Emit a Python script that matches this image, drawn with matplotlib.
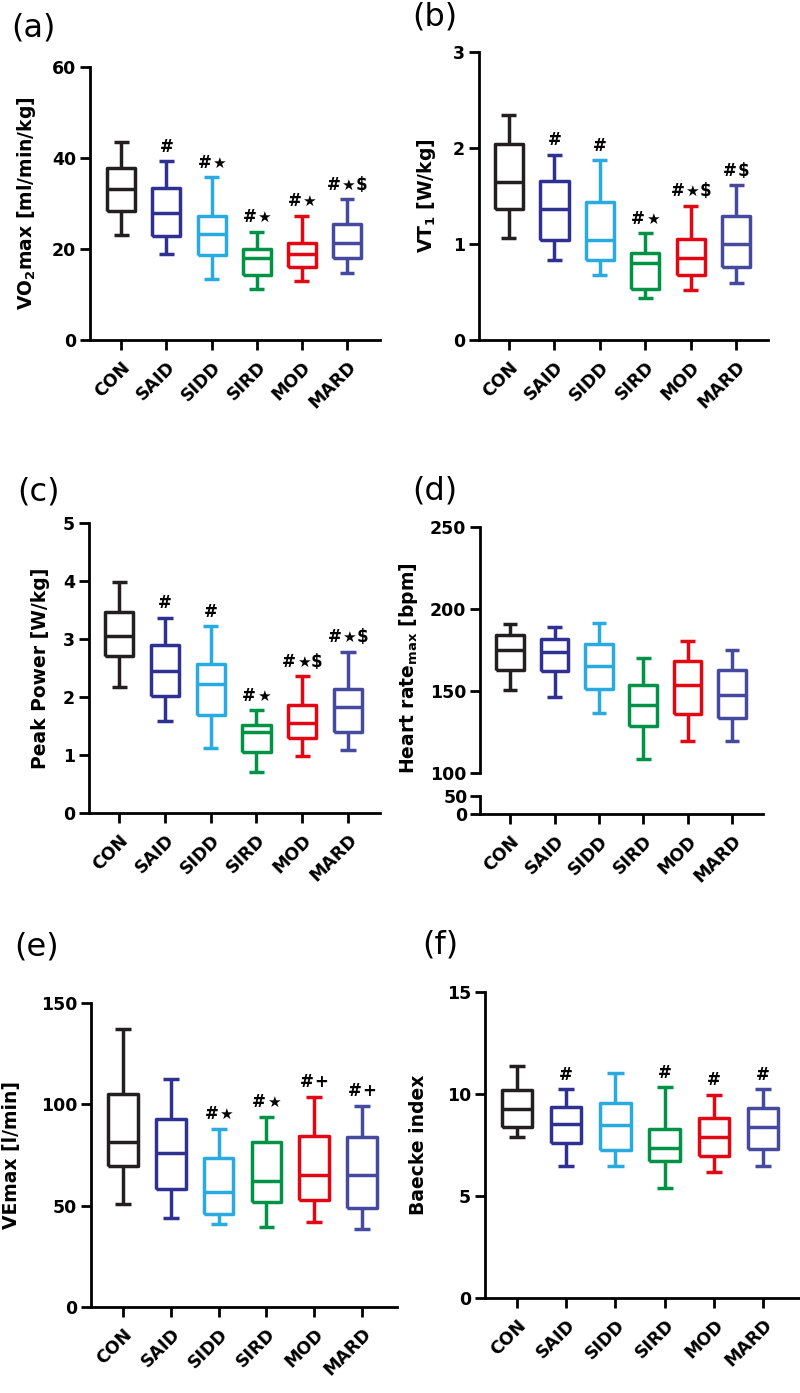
import matplotlib
matplotlib.use("Agg")
import matplotlib.pyplot as plt
from matplotlib.offsetbox import TextArea, HPacker, AnnotationBbox

plt.rcParams['font.family'] = ['DejaVu Sans']
plt.rcParams['mathtext.fontset'] = 'custom'
plt.rcParams['mathtext.rm'] = 'DejaVu Sans:bold'
plt.rcParams['mathtext.bf'] = 'DejaVu Sans:bold'
plt.rcParams['mathtext.it'] = 'DejaVu Sans:bold:italic'

groups = ['CON', 'SAID', 'SIDD', 'SIRD', 'MOD', 'MARD']
colors = ['#231f20', '#2e3192', '#29abe2', '#009245', '#e30613', '#464a9e']

# (a) VO2max
a_hi = [43.5, 39.3, 35.8, 23.8, 27.3, 30.9]
a_q3 = [37.7, 33.4, 27.2, 20.1, 21.4, 25.5]
a_med = [33.1, 27.9, 23.2, 18.1, 19.0, 21.4]
a_q1 = [28.4, 22.9, 18.7, 14.2, 16.1, 18.1]
a_lo = [23.0, 18.8, 13.3, 11.3, 12.9, 14.8]
a_sig = ['', '#', '#★', '#★', '#★', '#★$']

# (b) VT1
b_hi = [2.34, 1.93, 1.87, 1.11, 1.40, 1.61]
b_q3 = [2.04, 1.66, 1.44, 0.91, 1.05, 1.29]
b_med = [1.65, 1.36, 1.04, 0.80, 0.85, 1.00]
b_q1 = [1.36, 1.04, 0.83, 0.53, 0.68, 0.76]
b_lo = [1.06, 0.83, 0.68, 0.44, 0.52, 0.59]
b_sig = ['', '#', '#', '#★', '#★$', '#$']

# (c) Peak power
c_hi = [3.98, 3.37, 3.22, 1.77, 2.36, 2.78]
c_q3 = [3.46, 2.89, 2.57, 1.51, 1.86, 2.14]
c_med = [3.06, 2.44, 2.23, 1.40, 1.56, 1.82]
c_q1 = [2.70, 2.01, 1.69, 1.06, 1.30, 1.40]
c_lo = [2.18, 1.58, 1.12, 0.70, 0.99, 1.08]
c_sig = ['', '#', '#', '#★', '#★$', '#★$']

# (d) Heart rate max
d_hi = [190.7, 189.3, 191.3, 170.0, 180.2, 174.7]
d_q3 = [184.2, 181.6, 178.5, 153.8, 168.0, 162.6]
d_med = [175.1, 173.7, 165.0, 141.7, 153.4, 147.4]
d_q1 = [163.0, 161.9, 151.4, 128.9, 136.2, 133.6]
d_lo = [150.4, 146.2, 136.6, 108.7, 119.8, 119.8]

# (e) VEmax
e_hi = [137.0, 112.3, 88.0, 93.8, 103.6, 99.2]
e_q3 = [105.3, 92.6, 73.5, 81.4, 84.4, 83.9]
e_med = [81.4, 76.0, 56.7, 62.2, 65.0, 65.0]
e_q1 = [69.4, 58.4, 46.1, 51.8, 52.6, 48.8]
e_lo = [51.0, 44.1, 41.1, 39.5, 41.9, 38.3]
e_sig = ['', '', '#★', '#★', '#+', '#+']

# (f) Baecke index
f_hi = [11.37, 10.24, 11.01, 10.33, 9.95, 10.23]
f_q3 = [10.20, 9.38, 9.54, 8.29, 8.81, 9.30]
f_med = [9.25, 8.53, 8.48, 7.34, 7.91, 8.40]
f_q1 = [8.40, 7.59, 7.26, 6.72, 6.97, 7.29]
f_lo = [7.88, 6.48, 6.48, 5.38, 6.20, 6.48]
f_sig = ['', '#', '', '#', '#', '#']

W, H = 800, 1393
fig = plt.figure(figsize=(W / 100, H / 100), dpi=100)

LW = 2.5
SPW = 2.0
TICKFS = 12.5
LABFS = 13.5
PANFS = 23


def add_ax(l, r, t, b):
    return fig.add_axes([l / W, 1 - b / H, (r - l) / W, (b - t) / H])


def style(ax, yt, ylim, xl, xr, xticks=True):
    for s in ['top', 'right']:
        ax.spines[s].set_visible(False)
    for s in ['left', 'bottom']:
        ax.spines[s].set_linewidth(SPW)
    ax.set_ylim(*ylim)
    ax.set_yticks(yt)
    ax.set_yticklabels([str(v) for v in yt], fontsize=TICKFS, fontweight='bold')
    ax.tick_params(axis='both', direction='out', length=7, width=SPW, pad=3)
    ax.set_xlim(xl, xr)
    ax.set_xticks(range(len(groups)))
    if xticks:
        ax.set_xticklabels(groups, rotation=45, ha='right', va='top',
                           rotation_mode='anchor', fontsize=TICKFS, fontweight='bold')
        ax.tick_params(axis='x', pad=6)
    else:
        ax.set_xticklabels([])


def sig_box(s):
    parts = []
    for ch in s:
        if ch == '★':
            parts.append(TextArea(ch, textprops=dict(fontsize=11, color='black')))
        else:
            parts.append(TextArea(ch, textprops=dict(fontsize=12, fontweight='bold',
                                                     color='black')))
    return HPacker(children=parts, align='baseline', pad=0, sep=0.5)


def draw_boxes(ax, lo, q1, med, q3, hi, sig=None):
    stats = []
    for i in range(len(groups)):
        stats.append(dict(whislo=lo[i], q1=q1[i], med=med[i], q3=q3[i],
                          whishi=hi[i], label=groups[i]))
    art = ax.bxp(stats, positions=range(len(groups)), widths=0.62,
                 capwidths=0.33, showfliers=False, manage_ticks=False)
    for i, c in enumerate(colors):
        for a in [art['boxes'][i], art['medians'][i], art['whiskers'][2 * i],
                  art['whiskers'][2 * i + 1], art['caps'][2 * i], art['caps'][2 * i + 1]]:
            a.set_color(c)
            a.set_linewidth(LW)
            a.set_solid_capstyle('butt')
    if sig:
        for i, s in enumerate(sig):
            if s:
                ab = AnnotationBbox(sig_box(s), (i, hi[i]), xybox=(0, 4),
                                    xycoords='data', boxcoords='offset points',
                                    box_alignment=(0.5, 0.0), frameon=False, pad=0)
                ax.add_artist(ab)


# (a)
ax = add_ax(90, 380, 67, 340)
draw_boxes(ax, a_lo, a_q1, a_med, a_q3, a_hi, a_sig)
style(ax, [0, 20, 40, 60], (0, 60), -0.69, 5.73)
fig.text(27 / W, 1 - 203 / H, r'VO$_\mathrm{2}$max [ml/min/kg]', rotation=90,
         ha='center', va='center', fontsize=LABFS, fontweight='bold')
fig.text(11 / W, 1 - 28 / H, '(a)', fontsize=PANFS, ha='left', va='center')

# (b)
ax = add_ax(479, 768, 52, 340)
draw_boxes(ax, b_lo, b_q1, b_med, b_q3, b_hi, b_sig)
style(ax, [0, 1, 2, 3], (0, 3), -0.66, 5.70)
fig.text(426 / W, 1 - 196 / H, r'VT$_\mathrm{1}$ [W/kg]', rotation=90,
         ha='center', va='center', fontsize=LABFS, fontweight='bold')
fig.text(412 / W, 1 - 17 / H, '(b)', fontsize=PANFS, ha='left', va='center')

# (c)
ax = add_ax(89, 380, 523, 813)
draw_boxes(ax, c_lo, c_q1, c_med, c_q3, c_hi, c_sig)
style(ax, [0, 1, 2, 3, 4, 5], (0, 5), -0.66, 5.70)
fig.text(41 / W, 1 - 668 / H, 'Peak Power [W/kg]', rotation=90,
         ha='center', va='center', fontsize=LABFS, fontweight='bold')
fig.text(17 / W, 1 - 492 / H, '(c)', fontsize=PANFS, ha='left', va='center')

# (d) broken axis
ax = add_ax(480, 763, 527, 773)
draw_boxes(ax, d_lo, d_q1, d_med, d_q3, d_hi)
style(ax, [100, 150, 200, 250], (100, 250), -0.68, 5.70, xticks=False)
ax.spines['bottom'].set_visible(False)
ax.tick_params(axis='x', length=0)
ax2 = add_ax(480, 763, 796, 814)
style(ax2, [0, 50], (0, 50), -0.68, 5.70)
ax2.tick_params(axis='y', pad=2)
fig.text(409 / W, 1 - 668 / H, r'Heart rate$_\mathrm{max}$ [bpm]', rotation=90,
         ha='center', va='center', fontsize=LABFS, fontweight='bold')
fig.text(412 / W, 1 - 491 / H, '(d)', fontsize=PANFS, ha='left', va='center')

# (e)
ax = add_ax(91, 397, 1003, 1307)
draw_boxes(ax, e_lo, e_q1, e_med, e_q3, e_hi, e_sig)
style(ax, [0, 50, 100, 150], (0, 150), -0.67, 5.73)
fig.text(12 / W, 1 - 1155 / H, 'VEmax [l/min]', rotation=90,
         ha='center', va='center', fontsize=LABFS, fontweight='bold')
fig.text(14 / W, 1 - 947 / H, '(e)', fontsize=PANFS, ha='left', va='center')

# (f)
ax = add_ax(485, 800, 992, 1298)
draw_boxes(ax, f_lo, f_q1, f_med, f_q3, f_hi, f_sig)
style(ax, [0, 5, 10, 15], (0, 15), -0.65, 5.75)
fig.text(418 / W, 1 - 1145 / H, 'Baecke index', rotation=90,
         ha='center', va='center', fontsize=LABFS, fontweight='bold')
fig.text(422 / W, 1 - 945 / H, '(f)', fontsize=PANFS, ha='left', va='center')

fig.savefig('out.png', dpi=100)
